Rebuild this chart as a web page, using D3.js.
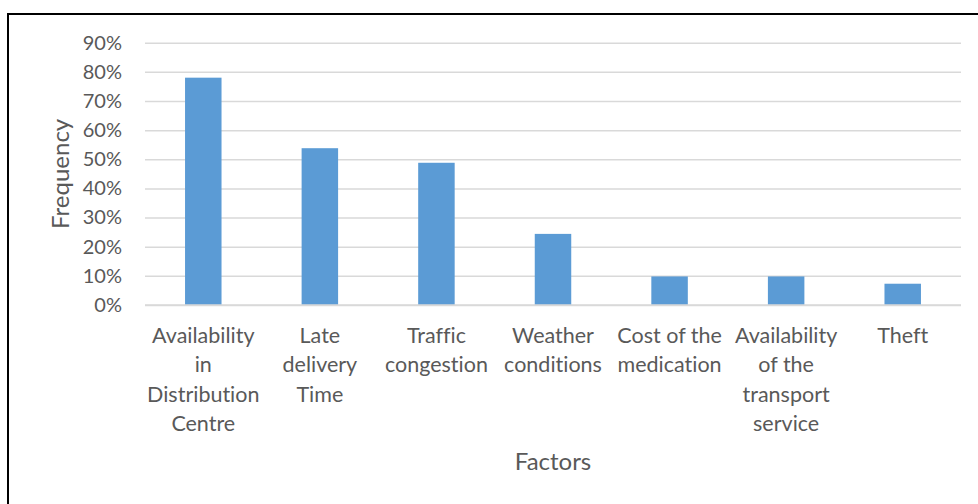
<!DOCTYPE html>
<html>
<head>
<meta charset="utf-8">
<script src="https://cdn.jsdelivr.net/npm/d3@7"></script>
<style>
  html, body { margin: 0; padding: 0; background: #fff; }
  svg { display: block; font-family: Lato, "Open Sans", sans-serif; font-variant-ligatures: none; }
</style>
</head>
<body>
<svg id="chart" width="978" height="504"></svg>
<script>
// Factors affecting medication delivery, share of respondents
const categories = [
  "Availability in Distribution Centre",
  "Late delivery Time",
  "Traffic congestion",
  "Weather conditions",
  "Cost of the medication",
  "Availability of the transport service",
  "Theft"
];
// Wrapped label lines per category
const categoryLines = [
  ["Availability", "in", "Distribution", "Centre"],
  ["Late", "delivery", "Time"],
  ["Traffic", "congestion"],
  ["Weather", "conditions"],
  ["Cost of the", "medication"],
  ["Availability", "of the", "transport", "service"],
  ["Theft"]
];
const frequency = [0.78, 0.538, 0.488, 0.244, 0.098, 0.098, 0.073];
const yTicks = [0, 0.1, 0.2, 0.3, 0.4, 0.5, 0.6, 0.7, 0.8, 0.9];
const yTitle = "Frequency";
const xTitle = "Factors";

const svg = d3.select("#chart");
const plot = { left: 145, right: 961, top: 42.7, bottom: 305 };
const textColor = "#595959";
const gridColor = "#D9D9D9";

// Outer frame (top and left edges)
svg.append("line").attr("x1", 8).attr("x2", 978).attr("y1", 14).attr("y2", 14)
  .attr("stroke", "#000").attr("stroke-width", 2);
svg.append("line").attr("x1", 8).attr("x2", 8).attr("y1", 13).attr("y2", 504)
  .attr("stroke", "#000").attr("stroke-width", 2);

const pad = 0.687;
const x = d3.scaleBand()
  .domain(categories)
  .range([plot.left, plot.right])
  .paddingInner(pad)
  .paddingOuter(pad / 2);

const y = d3.scaleLinear().domain([0, 0.9]).range([plot.bottom, plot.top]);

// Gridlines
const yAxis = d3.axisLeft(y)
  .tickValues(yTicks)
  .tickFormat(d3.format(".0%"))
  .tickSize(-(plot.right - plot.left))
  .tickPadding(23);

const gy = svg.append("g")
  .attr("transform", `translate(${plot.left},0)`)
  .call(yAxis);
gy.select(".domain").remove();
gy.selectAll(".tick line").attr("stroke", gridColor).attr("stroke-width", 1.5);
gy.selectAll(".tick text")
  .attr("fill", textColor)
  .attr("font-size", 20)
  .attr("font-family", "Lato, 'Open Sans', sans-serif");

// Bars
svg.append("g").selectAll("rect")
  .data(categories)
  .join("rect")
  .attr("x", d => x(d))
  .attr("width", x.bandwidth())
  .attr("y", (d, i) => y(frequency[i]))
  .attr("height", (d, i) => y(0) - y(frequency[i]))
  .attr("fill", "#5B9BD5");

// Baseline
svg.append("line")
  .attr("x1", plot.left).attr("x2", plot.right)
  .attr("y1", y(0)).attr("y2", y(0))
  .attr("stroke", gridColor).attr("stroke-width", 1.5);

// Category labels
const labels = svg.append("g").selectAll("text")
  .data(categories)
  .join("text")
  .attr("text-anchor", "middle")
  .attr("fill", textColor)
  .attr("font-size", 21.5)
  .attr("x", d => x(d) + x.bandwidth() / 2)
  .attr("y", 343);
labels.each(function(d, i) {
  const t = d3.select(this);
  const cx = x(d) + x.bandwidth() / 2;
  categoryLines[i].forEach((line, j) => {
    t.append("tspan").attr("x", cx).attr("dy", j === 0 ? 0 : 29.4).text(line);
  });
});

// Axis titles
svg.append("text")
  .attr("transform", `translate(69,${(plot.top + plot.bottom) / 2}) rotate(-90)`)
  .attr("text-anchor", "middle")
  .attr("fill", textColor)
  .attr("font-size", 24)
  .text(yTitle);

svg.append("text")
  .attr("x", (plot.left + plot.right) / 2)
  .attr("y", 470)
  .attr("text-anchor", "middle")
  .attr("fill", textColor)
  .attr("font-size", 24)
  .text(xTitle);
</script>
</body>
</html>
